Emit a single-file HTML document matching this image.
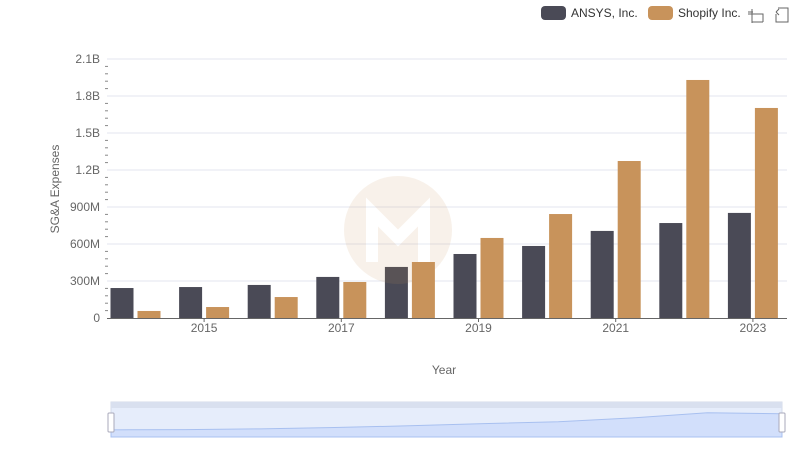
<!DOCTYPE html>
<html><head><meta charset="utf-8"><style>
body{margin:0;background:#fff;font-family:"Liberation Sans",sans-serif;}
svg text{font-family:"Liberation Sans",sans-serif;}
</style></head><body>
<svg width="800" height="461" xmlns="http://www.w3.org/2000/svg">
<g>
<g><rect x="541" y="6" width="25" height="14" rx="4" fill="#4a4a56"/><text x="571" y="17" font-size="12" fill="#333">ANSYS, Inc.</text></g>
<g><rect x="648" y="6" width="25" height="14" rx="4" fill="#c8935b"/><text x="678" y="17" font-size="12" fill="#333">Shopify Inc.</text></g>
<g stroke="#666" fill="none" stroke-width="1"><path d="M748 14h15v8M752 9v14M748 12h5M756 9h0M752 22h11"/></g>
<g stroke="#666" fill="none" stroke-width="1"><path d="M778 8h10v14h-12v-8M776 12l3-3M776 12l3 3"/></g>
</g>
<g id="grid"></g>
<g id="yaxis"></g>
<g id="bars"></g>
<g id="xaxis"></g>
<text transform="translate(59,189) rotate(-90)" text-anchor="middle" font-size="12" fill="#666">SG&amp;A Expenses</text>
<text x="444" y="374" text-anchor="middle" font-size="12" fill="#666">Year</text>
<g opacity="0.12"><circle cx="398" cy="230" r="54" fill="#c8935b"/><path d="M372 262v-50l26 26 26-26v50" stroke="#fff" stroke-width="12" fill="none"/></g>
<g>
<rect x="111" y="402" width="671" height="35" fill="#e6edfb" stroke="#d4dbea"/>
<rect x="111" y="402" width="671" height="6" fill="#d9e0ef"/>
<path id="sparea" fill="#d2dffb" stroke="#a8c0f0"/>
<rect x="108" y="413" width="6" height="19" rx="1" fill="#fff" stroke="#aab"/>
<rect x="779" y="413" width="6" height="19" rx="1" fill="#fff" stroke="#aab"/>
</g>
</svg>
<script>
const years=["2014","2015","2016","2017","2018","2019","2020","2021","2022","2023"];
const ansys=[0.243,0.251,0.268,0.333,0.414,0.519,0.584,0.706,0.770,0.852];
const shopify=[0.057,0.089,0.170,0.292,0.454,0.649,0.843,1.273,1.93,1.703];
const yTicks=[0,0.3,0.6,0.9,1.2,1.5,1.8,2.1];
const yTickLabels=["0","300M","600M","900M","1.2B","1.5B","1.8B","2.1B"];
const NS="http://www.w3.org/2000/svg";
const y=v=>318-v*(259/2.1);
const xc=i=>135.5+68.6*i;
function mk(tag,attrs,parent){const e=document.createElementNS(NS,tag);for(const k in attrs)e.setAttribute(k,attrs[k]);document.getElementById(parent).appendChild(e);return e;}
yTicks.forEach((t,i)=>{
 if(i>0){const g=mk('line',{x1:107,x2:787,y1:y(t),y2:y(t),stroke:'#e3e6ef'},'grid');
 
 }
 const l=mk('text',{x:100,y:y(t)+4,'text-anchor':'end','font-size':12,fill:'#666'},'yaxis');l.textContent=yTickLabels[i];
 
 
 if(i<yTicks.length-1)for(let k=1;k<5;k++){const m=mk('line',{x1:105,x2:108,y1:y(t+0.06*k),y2:y(t+0.06*k),stroke:'#888'},'yaxis');
 
 }
});
years.forEach((yr,i)=>{
 const a=mk('rect',{x:xc(i)-25,y:y(ansys[i]),width:23,height:318-y(ansys[i]),fill:'#4a4a56'},'bars');
 
 
 const s=mk('rect',{x:xc(i)+2,y:y(shopify[i]),width:23,height:318-y(shopify[i]),fill:'#c8935b'},'bars');
 
 
 if(i%2==1){const t=mk('text',{x:xc(i),y:332,'text-anchor':'middle','font-size':12,fill:'#666'},'xaxis');t.textContent=yr;
 
 
 const tk=mk('line',{x1:xc(i),x2:xc(i),y1:318,y2:322,stroke:'#666'},'xaxis');
 
 }
});
const ax=mk('line',{x1:107,x2:787,y1:318.5,y2:318.5,stroke:'#666'},'xaxis');


let d='M111 437';
years.forEach((yr,i)=>{const tot=ansys[i]+shopify[i];d+=' L'+(111+671*i/9)+' '+(432-tot*20/2.8);});
d+=' L782 437Z';
document.getElementById('sparea').setAttribute('d',d);
</script>
</body></html>
